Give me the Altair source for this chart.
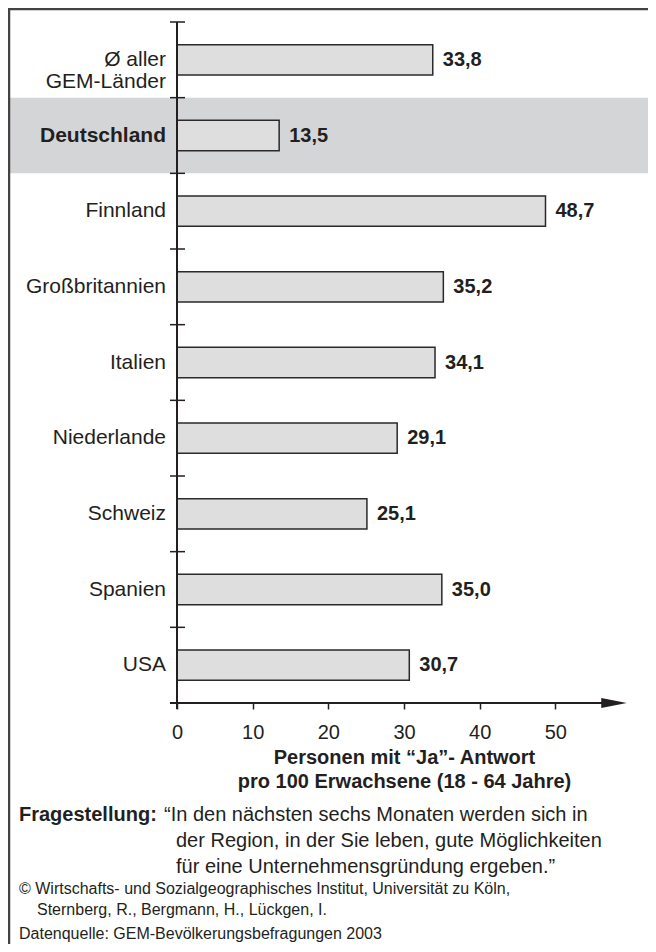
import altair as alt
import pandas as pd

# ---------------- data ----------------
categories = ["Ø aller\nGEM-Länder", "Deutschland", "Finnland", "Großbritannien",
              "Italien", "Niederlande", "Schweiz", "Spanien", "USA"]
values = [33.8, 13.5, 48.7, 35.2, 34.1, 29.1, 25.1, 35.0, 30.7]
highlight = ["Deutschland"]
x_ticks = [0, 10, 20, 30, 40, 50]
x_title = ["Personen mit “Ja”- Antwort", "pro 100 Erwachsene (18 - 64 Jahre)"]
question_label = ["Fragestellung:"]
question_lines = ["“In den nächsten sechs Monaten werden sich in",
                  "der Region, in der Sie leben, gute Möglichkeiten",
                  "für eine Unternehmensgründung ergeben.”"]
credit_lines = ["© Wirtschafts- und Sozialgeographisches Institut, Universität zu Köln,",
                "Sternberg, R., Bergmann, H., Lückgen, I."]
source_line = ["Datenquelle: GEM-Bevölkerungsbefragungen 2003"]

df = pd.DataFrame({
    "cat": categories,
    "val": values,
    "lbl": [f"{v:.1f}".replace(".", ",") for v in values],
    "hl": [c in highlight for c in categories],
})

FONT = "Liberation Sans"
INK = "#231f20"
W, H = 454, 681

y_enc = alt.Y("cat:N", sort=categories, axis=None,
              scale=alt.Scale(domain=categories, paddingInner=0, paddingOuter=0))
x_scale = alt.Scale(domain=[0, 60], nice=False)

base = alt.Chart(df)

# grey highlight band
band = base.transform_filter("datum.hl").mark_rect(color="#d4d5d7").encode(
    y=y_enc, x=alt.value(-171), x2=alt.value(480))

# outer frame
frame = alt.Chart(pd.DataFrame({"a": [0]})).mark_rect(
    fill=None, stroke="#444", strokeWidth=2.5).encode(
    x=alt.value(-168), y=alt.value(-13), x2=alt.value(520), y2=alt.value(960))

bars = base.mark_bar(height=alt.RelativeBandSize(0.4), fill="#dedede",
                     stroke="#2a2a2a", strokeWidth=1.5).encode(
    y=y_enc,
    x=alt.X("val:Q", scale=x_scale,
            axis=alt.Axis(values=x_ticks, domain=False, grid=False, tickSize=6,
                          tickWidth=1.5, tickColor=INK, labelFontSize=20,
                          labelFont=FONT, labelColor=INK, labelPadding=13,
                          labelFlush=False,
                          title=x_title, titleFont=FONT, titleFontSize=20,
                          titleFontWeight="bold", titleColor=INK,
                          titleLineHeight=24, titlePadding=5)),
)

vals = base.mark_text(align="left", baseline="middle", dx=10, fontSize=20,
                      fontWeight="bold", font=FONT, color=INK).encode(
    y=y_enc, x=alt.X("val:Q", scale=x_scale), text="lbl:N")

labels_norm = base.transform_filter("!datum.hl").mark_text(
    align="right", baseline="middle", fontSize=21, font=FONT, color=INK,
    lineBreak="\n", lineHeight=22).encode(
    y=y_enc, x=alt.value(-11), text="cat:N")
labels_bold = base.transform_filter("datum.hl").mark_text(
    align="right", baseline="middle", fontSize=21, fontWeight="bold",
    font=FONT, color=INK).encode(
    y=y_enc, x=alt.value(-11), text="cat:N")

# y axis line and boundary ticks
yline = alt.Chart(pd.DataFrame({"a": [0]})).mark_rule(color=INK, strokeWidth=2).encode(
    x=alt.value(0), y=alt.value(0), y2=alt.value(H + 6))
yticks = base.mark_rule(color=INK, strokeWidth=1.5).encode(
    y=alt.Y("cat:N", sort=categories, axis=None, bandPosition=0,
            scale=alt.Scale(domain=categories, paddingInner=0, paddingOuter=0)),
    x=alt.value(-7), x2=alt.value(8))

# x axis line with arrow
xline = alt.Chart(pd.DataFrame({"a": [0]})).mark_rule(color=INK, strokeWidth=2).encode(
    x=alt.value(-7), x2=alt.value(432), y=alt.value(H))
arrow = alt.Chart(pd.DataFrame({"a": [0]})).mark_point(
    shape="M-1,-0.4L1,0L-1,0.4Z", filled=True, color=INK, opacity=1, size=650,
    strokeWidth=0).encode(
    x=alt.value(437), y=alt.value(H))


def note(text, x, y, size=20, weight="normal"):
    return alt.Chart(pd.DataFrame({"t": [text]})).mark_text(
        align="left", baseline="middle", fontSize=size, fontWeight=weight,
        font=FONT, color=INK).encode(text="t:N", x=alt.value(x), y=alt.value(y))


notes = [
    note(question_label[0], -158, 793, 20, "bold"),
    note(question_lines[0], -13, 793),
    note(question_lines[1], -1, 819),
    note(question_lines[2], -1, 845),
    note(credit_lines[0], -158, 867, 16),
    note(credit_lines[1], -140, 888, 16),
    note(source_line[0], -158, 912, 16),
]

chart = alt.layer(band, frame, bars, vals, labels_norm, labels_bold, yline, yticks,
                  xline, arrow, *notes).properties(
    width=W, height=H,
    autosize=alt.AutoSizeParams(type="none"),
    padding={"left": 169, "top": 14, "right": 17, "bottom": 241},
).configure(background="white").configure_view(strokeWidth=0, stroke="transparent")

chart.save("out.html", embed_options={"renderer": "svg", "actions": False})
